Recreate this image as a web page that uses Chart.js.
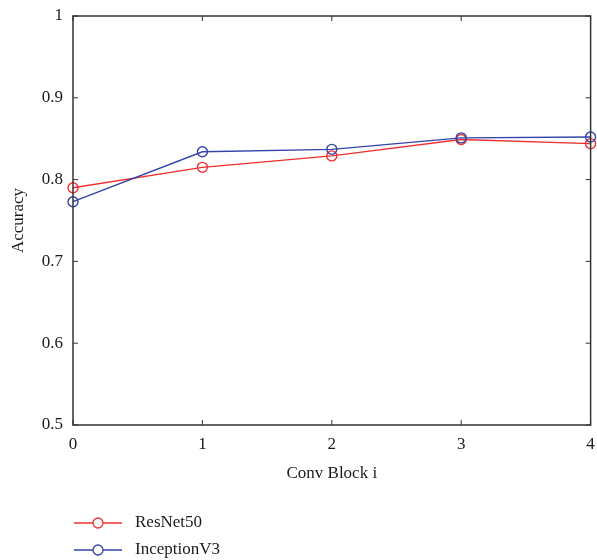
<!DOCTYPE html>
<html>
<head>
<meta charset="utf-8">
<script src="https://cdn.jsdelivr.net/npm/chart.js@4.4.0/dist/chart.umd.min.js"></script>
<style>
  html, body { margin: 0; padding: 0; background: #fff; }
  #wrap { width: 597px; height: 560px; }
</style>
</head>
<body>
<div id="wrap"><canvas id="chart"></canvas></div>
<script>
const blocks = ['0', '1', '2', '3', '4'];
const resnet50 = [0.790, 0.815, 0.829, 0.849, 0.844];
const inceptionV3 = [0.773, 0.834, 0.837, 0.851, 0.852];
const yTicks = [0.5, 0.6, 0.7, 0.8, 0.9, 1];

const RED = '#f03030';
const BLUE = '#3344aa';
const FONT = "'Liberation Serif', 'DejaVu Serif', serif";

// box around the plot + inward ticks + legend underneath
const matlabFrame = {
    id: 'matlabFrame',
    afterDraw(chart) {
        const ctx = chart.ctx;
        const a = chart.chartArea;
        const xs = chart.scales.x, ys = chart.scales.y;
        ctx.save();
        ctx.strokeStyle = '#333';
        ctx.lineWidth = 1.5;
        ctx.strokeRect(a.left, a.top, a.right - a.left, a.bottom - a.top);
        ctx.lineWidth = 1;
        ctx.beginPath();
        blocks.forEach((b, i) => {
            const px = xs.getPixelForValue(i);
            ctx.moveTo(px, a.bottom); ctx.lineTo(px, a.bottom - 5);
            ctx.moveTo(px, a.top); ctx.lineTo(px, a.top + 5);
        });
        yTicks.forEach(v => {
            const py = ys.getPixelForValue(v);
            ctx.moveTo(a.left, py); ctx.lineTo(a.left + 5, py);
            ctx.moveTo(a.right, py); ctx.lineTo(a.right - 5, py);
        });
        ctx.stroke();

        // legend
        const items = [chart.data.datasets[0], chart.data.datasets[1]];
        ctx.font = '17px ' + FONT;
        ctx.textBaseline = 'middle';
        items.forEach((ds, i) => {
            const y = 523 + i * 27;
            ctx.strokeStyle = ds.borderColor;
            ctx.lineWidth = 1.3;
            ctx.beginPath();
            ctx.moveTo(74, y); ctx.lineTo(122, y);
            ctx.stroke();
            ctx.fillStyle = '#fff';
            ctx.beginPath();
            ctx.arc(98, y, 5, 0, Math.PI * 2);
            ctx.fill();
            ctx.stroke();
            ctx.fillStyle = '#1a1a1a';
            ctx.fillText(ds.label, 135, y);
        });
        ctx.restore();
    }
};

document.addEventListener('DOMContentLoaded', function() {
    const ctx = document.getElementById('chart');
    new Chart(ctx, {
        type: 'line',
        data: {
            labels: blocks,
            datasets: [
                {
                    label: 'ResNet50',
                    data: resnet50,
                    borderColor: RED,
                    borderWidth: 1.4,
                    pointRadius: 5,
                    pointBorderWidth: 1.4,
                    pointBackgroundColor: 'rgba(255,255,255,0)',
                    tension: 0,
                    order: 1
                },
                {
                    label: 'InceptionV3',
                    data: inceptionV3,
                    borderColor: BLUE,
                    borderWidth: 1.4,
                    pointRadius: 5,
                    pointBorderWidth: 1.4,
                    pointBackgroundColor: 'rgba(255,255,255,0)',
                    tension: 0,
                    order: 0
                }
            ]
        },
        options: {
            responsive: true,
            maintainAspectRatio: false,
            animation: false,
            layout: {
                padding: { top: 16, right: 5, bottom: 75, left: 0 }
            },
            plugins: {
                legend: { display: false },
                tooltip: { enabled: false }
            },
            scales: {
                x: {
                    type: 'category',
                    offset: false,
                    grid: { display: false, drawTicks: false },
                    border: { display: false },
                    ticks: {
                        padding: 9,
                        maxRotation: 0,
                        font: { family: FONT, size: 17 },
                        color: '#1a1a1a'
                    },
                    title: {
                        display: true,
                        text: 'Conv Block i',
                        font: { family: FONT, size: 17 },
                        color: '#1a1a1a',
                        padding: { top: 14, bottom: 1 }
                    },
                    afterFit(scale) {
                        scale.height = 60;
                        scale.paddingLeft = 0;
                        scale.paddingRight = 0;
                    }
                },
                y: {
                    min: 0.5,
                    max: 1,
                    afterBuildTicks(scale) {
                        scale.ticks = yTicks.map(v => ({ value: v }));
                    },
                    grid: { display: false, drawTicks: false },
                    border: { display: false },
                    ticks: {
                        padding: 10,
                        font: { family: FONT, size: 17 },
                        color: '#1a1a1a',
                        callback: v => String(v)
                    },
                    title: {
                        display: true,
                        text: 'Accuracy',
                        font: { family: FONT, size: 17 },
                        color: '#1a1a1a',
                        padding: { bottom: 0, top: 8 }
                    },
                    afterFit(scale) {
                        scale.width = 73;
                        scale.paddingTop = 0;
                        scale.paddingBottom = 0;
                    }
                }
            }
        },
        plugins: [matlabFrame]
    });
});
</script>
</body>
</html>
